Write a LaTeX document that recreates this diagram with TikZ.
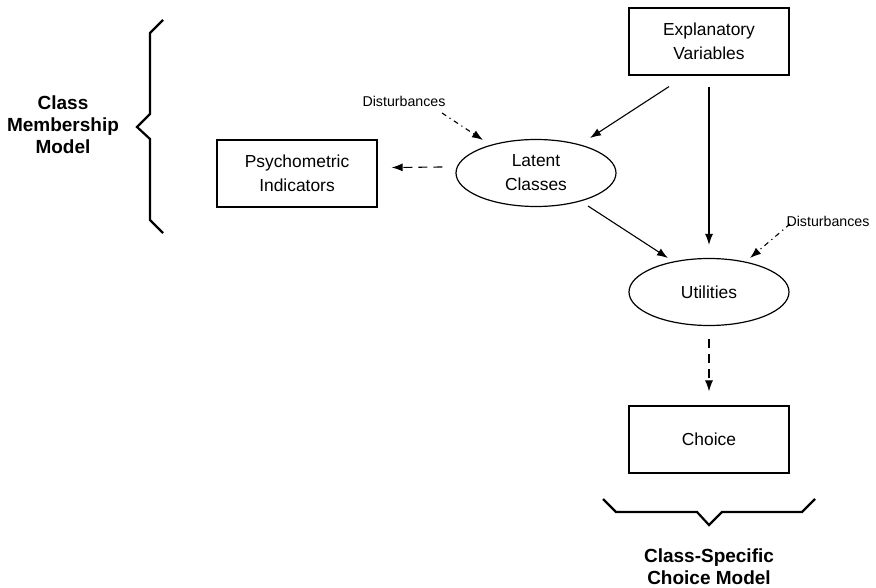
\documentclass[tikz,border=0pt]{standalone}
\usepackage{fontspec}
\setmainfont{Liberation Sans}
\usetikzlibrary{arrows.meta,shapes.geometric}
\tikzset{
  boxnode/.style={draw,line width=1.2pt,minimum width=160pt,minimum height=67pt,inner sep=0pt,align=center,font=\fontsize{17.4}{24}\selectfont},
  ellnode/.style={draw,ellipse,line width=1.2pt,minimum width=160pt,minimum height=67pt,inner sep=0pt,align=center,font=\fontsize{17.4}{24}\selectfont},
  distnode/.style={inner sep=0pt,font=\fontsize{14.2}{17}\selectfont},
  bracelabel/.style={inner sep=0pt,align=center,font=\fontsize{19}{22}\selectfont\bfseries},
  bracepath/.style={line width=2.2pt,line join=miter},
  arr/.style={line width=1.1pt,-{Latex[length=11pt,width=8pt]}},
  dasharr/.style={arr,dash pattern=on 9pt off 6pt},
  dotarr/.style={arr,dash pattern=on 5pt off 4pt on 1.2pt off 4pt}
}
\begin{document}
\begin{tikzpicture}[x=1pt,y=-1pt]
\useasboundingbox (0,0) rectangle (876,588);
\node[boxnode] (ev) at (709,41.5) {Explanatory\\Variables};
\node[ellnode] (lc) at (536,173) {Latent\\Classes};
\node[boxnode] (ps) at (297,173.5) {Psychometric\\Indicators};
\node[ellnode] (ut) at (709,292) {Utilities};
\node[boxnode] (ch) at (709,439.5) {Choice};
\node[distnode] (d1) at (404,101) {Disturbances};
\node[distnode] (d2) at (828,221) {Disturbances};
\node[bracelabel] (cm) at (63,125) {Class\\Membership\\Model};
\node[bracelabel] (cs) at (709,567) {Class-Specific\\Choice Model};
% connectors
\draw[arr] ([xshift=-40pt,yshift=-11pt]ev.south) -- ([xshift=54pt,yshift=35pt]lc.center);
\draw[arr] ([yshift=-11pt]ev.south) -- ([yshift=13pt]ut.north);
\draw[arr] ([xshift=52pt,yshift=-33pt]lc.center) -- ([xshift=-41pt,yshift=34pt]ut.center);
\draw[dasharr] ([xshift=-13pt,yshift=6pt]lc.west) -- ([xshift=14pt,yshift=6pt]ps.east);
\draw[dasharr] ([yshift=-13pt]ut.south) -- ([yshift=14pt]ch.north);
\draw[dotarr] ([xshift=38pt,yshift=-12pt]d1.center) -- ([xshift=-53pt,yshift=33pt]lc.center);
\draw[dotarr] ([xshift=-38pt,yshift=-3pt]d2.center) -- ([xshift=41pt,yshift=34pt]ut.center);
% braces
\draw[bracepath] (163,20) -- (150,33) -- (150,114) -- (137,127) -- (150,139) -- (150,220) -- (163,233);
\draw[bracepath] (603,499) -- (616,512) -- (697,512) -- (709,525) -- (722,512) -- (802,512) -- (815,499);
\end{tikzpicture}
\end{document}
